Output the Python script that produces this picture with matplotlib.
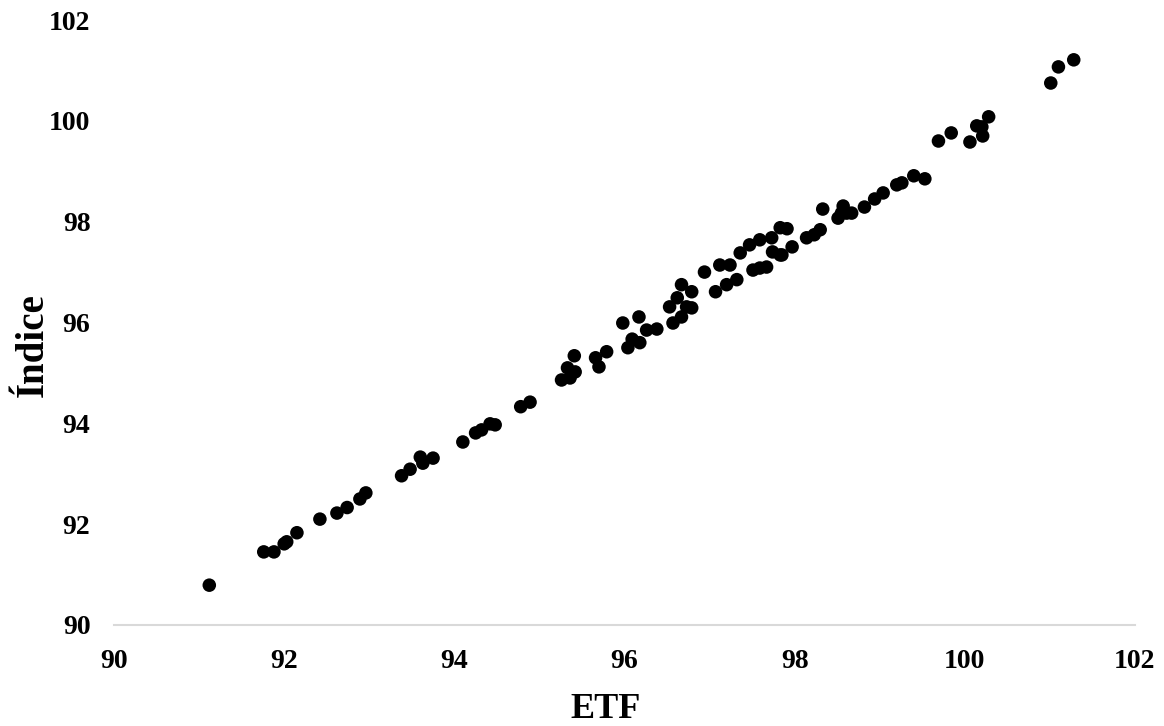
import matplotlib
matplotlib.use("Agg")
import matplotlib.pyplot as plt

etf = [91.12, 91.76, 91.88, 92.00, 92.03, 92.15, 92.42, 92.62, 92.74, 92.89, 92.96,
       93.38, 93.48, 93.60, 93.63, 93.75, 94.10, 94.25, 94.32, 94.42, 94.48, 94.78,
       94.89, 95.26, 95.36, 95.33, 95.42, 95.41, 95.66, 95.70, 95.79, 95.98, 96.04,
       96.09, 96.17, 96.18, 96.26, 96.38, 96.57, 96.67, 96.53, 96.62, 96.67, 96.79,
       96.79, 96.73, 96.94, 97.07, 97.12, 97.24, 97.20, 97.32, 97.36, 97.51, 97.59,
       97.67, 97.85, 97.47, 97.59, 97.73, 97.83, 97.91, 97.74, 97.83, 97.97, 98.14,
       98.23, 98.30, 98.33, 98.51, 98.55, 98.57, 98.61, 98.67, 98.82, 98.94, 99.04,
       99.20, 99.26, 99.40, 99.53, 99.69, 99.84, 100.06, 100.14, 100.20, 100.21,
       100.28, 101.01, 101.10, 101.28]
indice = [90.79, 91.45, 91.45, 91.61, 91.65, 91.83, 92.10, 92.22, 92.33, 92.50, 92.62,
          92.96, 93.09, 93.33, 93.21, 93.31, 93.63, 93.81, 93.87, 93.99, 93.97, 94.33,
          94.42, 94.86, 94.90, 95.10, 95.02, 95.34, 95.30, 95.12, 95.42, 95.99, 95.50,
          95.67, 96.11, 95.60, 95.85, 95.87, 95.99, 96.11, 96.31, 96.49, 96.75, 96.61,
          96.29, 96.31, 97.00, 96.61, 97.14, 97.14, 96.75, 96.85, 97.38, 97.04, 97.08,
          97.10, 97.34, 97.54, 97.64, 97.68, 97.88, 97.86, 97.40, 97.34, 97.50, 97.68,
          97.74, 97.84, 98.25, 98.07, 98.17, 98.31, 98.17, 98.17, 98.29, 98.45, 98.57,
          98.73, 98.77, 98.91, 98.85, 99.60, 99.76, 99.58, 99.90, 99.88, 99.70,
          100.08, 100.75, 101.07, 101.21]

ticks = [90, 92, 94, 96, 98, 100, 102]

plt.rcParams['font.family'] = ['Liberation Serif', 'DejaVu Serif']
fig = plt.figure(figsize=(11.64, 7.26), dpi=100)
ax = fig.add_axes([114/1164, 1 - 625/726, (1135 - 114)/1164, (625 - 20)/726])

ax.scatter(etf, indice, s=95, color='black', edgecolors='none', zorder=3, clip_on=False)

ax.set_xlim(90, 102)
ax.set_ylim(90, 102)
ax.set_xticks(ticks)
ax.set_yticks(ticks)
ax.set_xticklabels([str(t) for t in ticks], fontsize=20, fontweight='bold')
ax.set_yticklabels([str(t) for t in ticks], fontsize=20, fontweight='bold')
ax.tick_params(axis='both', length=0)
ax.tick_params(axis='x', pad=17)
ax.tick_params(axis='y', pad=17)

for s in ['top', 'right', 'left']:
    ax.spines[s].set_visible(False)
ax.spines['bottom'].set_color('#d9d9d9')
ax.spines['bottom'].set_linewidth(1.5)

ax.set_xlabel('ETF', fontsize=26, fontweight='bold')
ax.xaxis.label.set_va('baseline')
ax.xaxis.label.set_ha('center')
ax.xaxis.set_label_coords((606 - 114) / 1021, (625 - 718) / 605)

ax.set_ylabel('Índice', fontsize=28, fontweight='bold', rotation=90)
ax.yaxis.label.set_rotation_mode('anchor')
ax.yaxis.label.set_va('baseline')
ax.yaxis.label.set_ha('center')
ax.yaxis.set_label_coords((43 - 114) / 1021, (625 - 345) / 605)

fig.savefig('out.png', dpi=100)
